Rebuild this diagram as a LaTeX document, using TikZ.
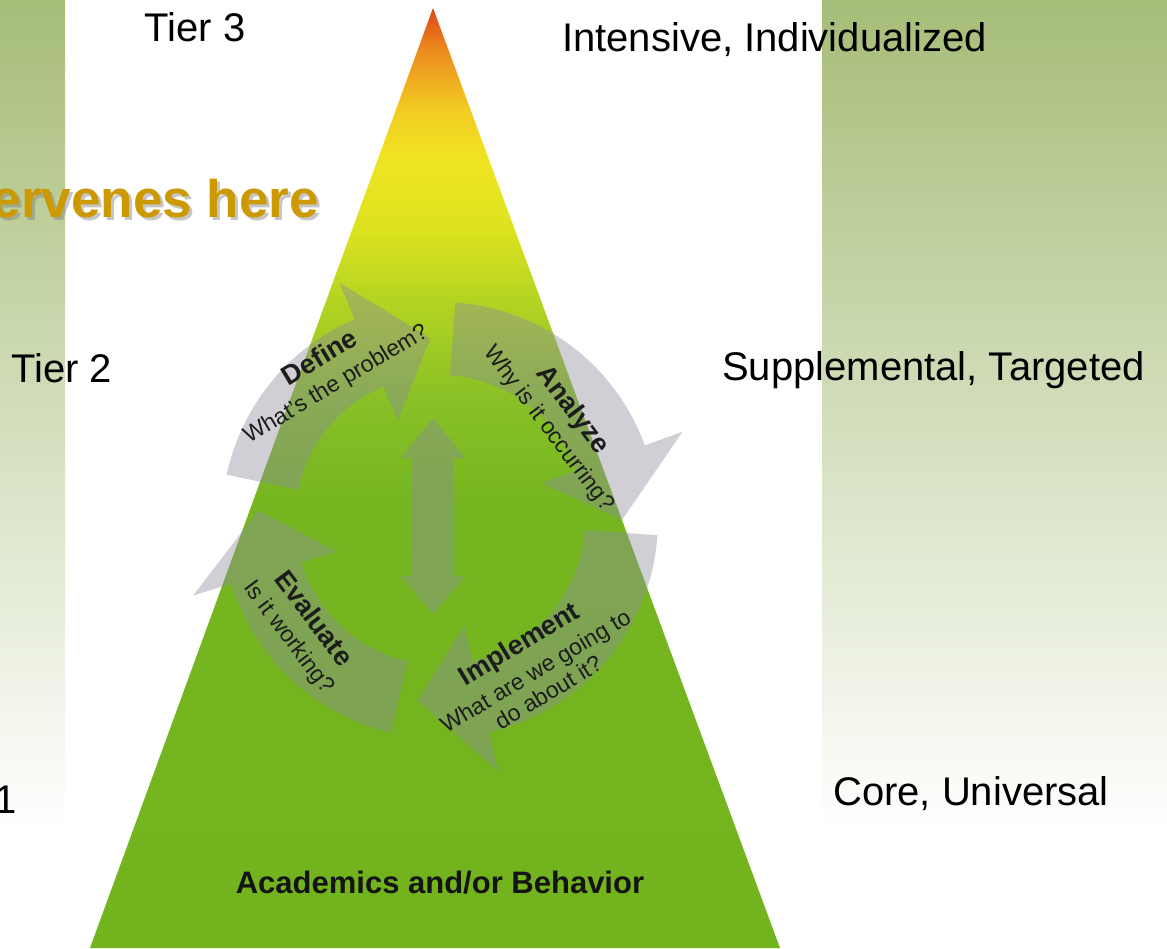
\documentclass[tikz,border=0pt]{standalone}
\usepackage{fontspec}
\setmainfont{Liberation Sans}
\usetikzlibrary{calc}
\definecolor{stripg}{RGB}{166,189,120}
\definecolor{tgreen}{RGB}{114,180,30}
\definecolor{tgreen2}{RGB}{118,182,32}
\definecolor{tg3}{RGB}{136,192,38}
\definecolor{tyg}{RGB}{180,212,34}
\definecolor{tyel2}{RGB}{220,226,30}
\definecolor{tyel}{RGB}{240,228,34}
\definecolor{tyo}{RGB}{242,204,34}
\definecolor{torange}{RGB}{236,138,30}
\definecolor{tred}{RGB}{222,68,24}
\definecolor{cyclegray}{RGB}{140,140,156}
\definecolor{goldtext}{RGB}{204,153,0}
\definecolor{labeltext}{RGB}{28,28,28}
\pgfdeclareverticalshading{pyramid}{100bp}{color(0bp)=(tgreen); color(25bp)=(tgreen); color(48.8bp)=(tgreen2); color(54.1bp)=(tg3); color(59.5bp)=(tyg); color(63.2bp)=(tyel2); color(66.9bp)=(tyel); color(69.6bp)=(tyo); color(72.8bp)=(torange); color(75bp)=(tred); color(100bp)=(tred)}
\newcommand\cyclearrow[3]{%
  \fill[cyc] ($(C)+(#1:218)$) arc[start angle=#1, end angle=#2, radius=218]
    -- ($(C)+(#2:258)$) -- ($(C)+(#3:182)$) -- ($(C)+(#2:108)$) -- ($(C)+(#2:145)$)
    arc[start angle=#2, end angle=#1, radius=145] -- cycle;}
\begin{document}
\begin{tikzpicture}[x=1pt,y=1pt,
  tier/.style={font=\fontsize{40}{48}\selectfont, inner sep=0pt, text=black},
  cyc/.style={fill=cyclegray, fill opacity=0.42, draw=none},
  steplabel/.style={text=labeltext, align=center, inner sep=0pt, font=\fontsize{23}{29}\selectfont}]
\useasboundingbox (0,0) rectangle (1167,-948);
% background strips
\shade[top color=stripg, bottom color=white] (0,0) rectangle (65,-830);
\shade[top color=stripg, bottom color=white] (822,0) rectangle (1167,-830);
% pyramid
\coordinate (apex) at (433,-8);
\coordinate (bl) at (90,-948);
\coordinate (br) at (780,-948);
\shade[shading=pyramid] (apex) -- (br) -- (bl) -- cycle;
% cycle
\coordinate (C) at (440,-520);
\cyclearrow{168}{113}{93}
\cyclearrow{86}{20}{0}
\cyclearrow{-4}{-77}{-97}
\cyclearrow{-103}{-163}{-183}
\fill[cyc] (433,-418) -- (465,-458) -- (454,-458) -- (454,-576) -- (465,-576) -- (433,-614)
  -- (401,-576) -- (412,-576) -- (412,-458) -- (401,-458) -- cycle;
% step labels
\node[steplabel, rotate=31] (define) at (328,-371)
  {{\fontsize{27}{29}\selectfont\bfseries Define}\\What's the problem?};
\node[steplabel, rotate=-53] (analyze) at (561,-419)
  {{\fontsize{27}{29}\selectfont\bfseries Analyze}\\Why is it occurring?};
\node[steplabel, rotate=-53] (evaluate) at (301,-628)
  {{\fontsize{27}{29}\selectfont\bfseries Evaluate}\\Is it working?};
\node[steplabel, rotate=31, font=\fontsize{23}{25}\selectfont] (implement) at (533,-667)
  {{\fontsize{27}{29}\selectfont\bfseries Implement}\\[6pt]What are we going to\\do about it?};
\node[font=\bfseries\fontsize{31}{31}\selectfont, text=black!92, anchor=base, inner sep=0pt] (acad) at (440,-893)
  {Academics and/or Behavior};
% tier labels
\node[tier, anchor=base] (t3) at (195,-41) {Tier 3};
\node[tier, anchor=base west] (t3r) at (562,-51) {Intensive, Individualized};
\node[tier, anchor=base west] (t2) at (11,-382) {Tier 2};
\node[tier, anchor=base west] (t2r) at (722,-380) {Supplemental, Targeted};
\node[tier, anchor=base east] (t1) at (17,-813) {1};
\node[tier, anchor=base west] (t1r) at (833,-805) {Core, Universal};
% intervenes
\node[font=\bfseries\fontsize{53}{53}\selectfont, text=black!50, opacity=0.45, anchor=base east, inner sep=0pt] (intshadow) at (322,-220) {ervenes here};
\node[font=\bfseries\fontsize{53}{53}\selectfont, text=goldtext, anchor=base east, inner sep=0pt] (interv) at (319,-217) {ervenes here};
\end{tikzpicture}
\end{document}
